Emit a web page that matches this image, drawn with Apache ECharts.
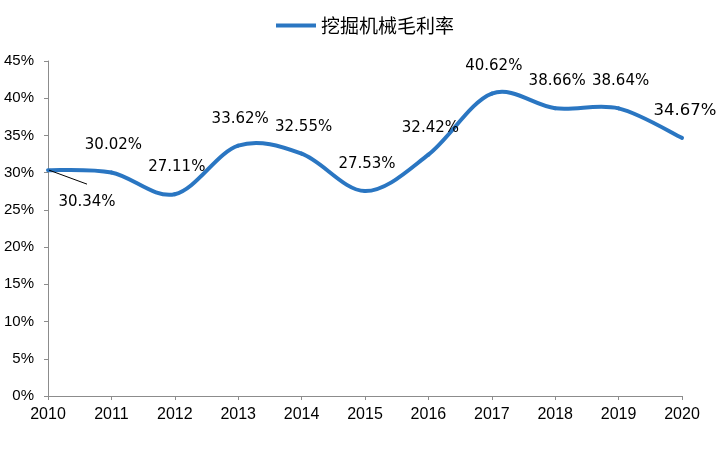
<!DOCTYPE html>
<html><head><meta charset="utf-8">
<script src="https://cdn.jsdelivr.net/npm/echarts@6/dist/echarts.min.js"></script>
<style>html,body{margin:0;padding:0;background:#fff}#c{width:721px;height:450px}</style>
</head><body><div id="c"></div>
<script>
const seriesName = '挖掘机械毛利率';
const years = ['2010','2011','2012','2013','2014','2015','2016','2017','2018','2019','2020'];
const margin = [30.34, 30.02, 27.11, 33.62, 32.55, 27.53, 32.42, 40.62, 38.66, 38.64, 34.67];
const yTicks = [0, 5, 10, 15, 20, 25, 30, 35, 40, 45];

const lineColor = '#2a76c2';
const n = margin.length;
const labelData = margin.map((v, i) => {
  const item = { value: v };
  if (i === 0) item.label = { offset: [39, 32] };
  if (i === n - 1) item.label = { fontSize: 16.5, offset: [3, -27] };
  return item;
});

// Excel-style (Catmull-Rom) smoothed segment between point i and i+1, positioned via axis scales
function renderSegment(params, api) {
  const i = params.dataIndex;
  const clampIdx = k => Math.max(0, Math.min(n - 1, k));
  const P = k => api.coord([clampIdx(k), margin[clampIdx(k)]]);
  const children = [];
  if (i < n - 1) {
    const p0 = P(i - 1), p1 = P(i), p2 = P(i + 1), p3 = P(i + 2);
    children.push({
      type: 'bezierCurve',
      shape: {
        x1: p1[0], y1: p1[1], x2: p2[0], y2: p2[1],
        cpx1: p1[0] + (p2[0] - p0[0]) / 6, cpy1: p1[1] + (p2[1] - p0[1]) / 6,
        cpx2: p2[0] - (p3[0] - p1[0]) / 6, cpy2: p2[1] - (p3[1] - p1[1]) / 6
      },
      style: { stroke: lineColor, lineWidth: 4, fill: null, lineCap: 'round' }
    });
  }
  if (i === 0) {
    // leader line for the first data label
    const p = P(0);
    children.push({
      type: 'line', z2: 10,
      shape: { x1: p[0] + 1, y1: p[1], x2: p[0] + 39, y2: p[1] + 14 },
      style: { stroke: '#000', lineWidth: 1 }
    });
  }
  return { type: 'group', children };
}

const chart = echarts.init(document.getElementById('c'), null, { renderer: 'canvas' });
chart.setOption({
  animation: false,
  backgroundColor: '#fff',
  legend: {
    left: 271, top: 11,
    data: [{ name: seriesName, icon: 'rect', itemStyle: { color: lineColor } }],
    itemWidth: 40, itemHeight: 4, itemGap: 5,
    textStyle: { fontFamily: 'Noto Sans CJK SC', fontSize: 19, color: '#000' }
  },
  grid: { left: 48, right: 39, top: 61, bottom: 54, containLabel: false },
  xAxis: {
    type: 'category', data: years, boundaryGap: false,
    axisLine: { lineStyle: { color: '#8c8c8c', width: 1 } },
    axisTick: { show: true, alignWithLabel: true, length: 4, lineStyle: { color: '#8c8c8c' } },
    axisLabel: { color: '#000', fontFamily: 'Liberation Sans, Arial', fontSize: 16, margin: 11 },
    splitLine: { show: false }
  },
  yAxis: {
    type: 'value', min: yTicks[0], max: yTicks[yTicks.length - 1], interval: 5,
    axisLine: { show: true, lineStyle: { color: '#8c8c8c', width: 1 } },
    axisTick: { show: true, length: 4, lineStyle: { color: '#8c8c8c' } },
    axisLabel: { color: '#000', fontFamily: 'Liberation Sans, Arial', fontSize: 15, margin: 14, formatter: v => v + '%' },
    splitLine: { show: false }
  },
  series: [{
    name: seriesName, type: 'custom', z: 2,
    itemStyle: { color: lineColor },
    data: margin.map((v, i) => [i, v]),
    encode: { x: 0, y: 1 },
    renderItem: renderSegment,
    silent: true
  }, {
    name: seriesName, type: 'line', data: labelData, z: 3,
    symbol: 'circle', symbolSize: 2, showSymbol: true,
    itemStyle: { color: lineColor },
    lineStyle: { color: lineColor, width: 4, opacity: 0 },
    label: {
      show: true, position: 'inside', offset: [2, -27],
      formatter: p => p.value.toFixed(2) + '%',
      color: '#000', fontFamily: 'DejaVu Sans', fontSize: 15
    }
  }]
});
</script></body></html>
